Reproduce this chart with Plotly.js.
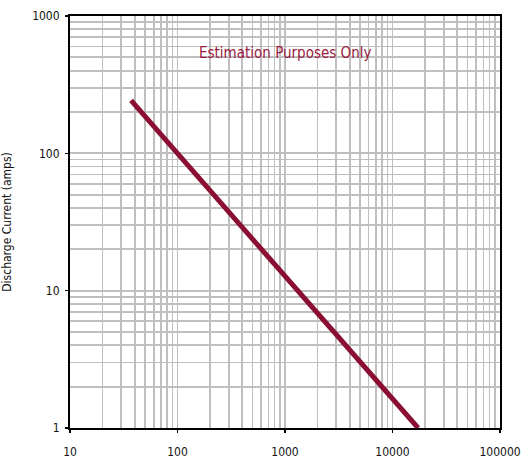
<!DOCTYPE html>
<html><head><meta charset="utf-8">
<script src="https://cdn.plot.ly/plotly-3.0.1.min.js"></script>
<style>html,body{margin:0;padding:0;background:#fff;}</style>
</head><body>
<div id="chart" style="width:522px;height:461px;"></div>
<script>
var timeX = [37, 17300];
var currentY = [243, 1];
var xTicks = [10, 100, 1000, 10000, 100000];
var xTickLabels = ["10", "100", "1000", "10000", "100000"];
var yTicks = [1, 10, 100, 1000];
var yTickLabels = ["1", "10", "100", "1000"];
var minorSteps = [2, 3, 4, 5, 6, 7, 8, 9];
var noteText = "Estimation Purposes Only";
var yTitle = "Discharge Current (amps)";

function gridVals(decades) {
  var v = [];
  decades.forEach(function (d, i) {
    v.push(d);
    if (i < decades.length - 1) minorSteps.forEach(function (m) { v.push(d * m); });
  });
  return v;
}
function gridText(decades, labels) {
  var t = [];
  decades.forEach(function (d, i) {
    t.push(labels[i]);
    if (i < decades.length - 1) minorSteps.forEach(function () { t.push(""); });
  });
  return t;
}

var font = "DejaVu Sans Condensed, Liberation Sans Narrow, Arial Narrow, sans-serif";
var trace = {
  x: timeX, y: currentY, type: "scatter", mode: "lines",
  line: {color: "#8a0f32", width: 5}, hoverinfo: "skip"
};
var dummy = {
  x: timeX, y: currentY, type: "scatter", mode: "lines", xaxis: "x2", yaxis: "y2",
  line: {color: "rgba(0,0,0,0)", width: 0}, hoverinfo: "skip"
};
var gridAxis = {
  type: "log", showline: true, linecolor: "#000", linewidth: 2, mirror: true,
  ticks: "", showgrid: true, gridcolor: "#bfbfbf", gridwidth: 1.7,
  tickfont: {family: font, size: 12, color: "#111"}, zeroline: false
};
var tickAxis = {
  type: "log", showline: false, showgrid: false, zeroline: false,
  ticks: "outside", ticklen: 4, tickcolor: "#000", tickwidth: 1.5, showticklabels: false
};
var layout = {
  width: 522, height: 461,
  margin: {l: 70, r: 22, t: 16, b: 33},
  paper_bgcolor: "#fff", plot_bgcolor: "#fff",
  showlegend: false,
  xaxis: Object.assign({}, gridAxis, {
    range: [1, 5], tickmode: "array", tickvals: gridVals(xTicks), ticktext: gridText(xTicks, xTickLabels),
    ticklabelstandoff: 12
  }),
  yaxis: Object.assign({}, gridAxis, {
    range: [0, 3], tickmode: "array", tickvals: gridVals(yTicks), ticktext: gridText(yTicks, yTickLabels),
    ticklabelstandoff: 6,
    title: {text: yTitle, font: {family: font, size: 12, color: "#111"}, standoff: 18}
  }),
  xaxis2: Object.assign({}, tickAxis, {range: [1, 5], overlaying: "x", side: "bottom", tickvals: xTicks, anchor: "y2"}),
  yaxis2: Object.assign({}, tickAxis, {range: [0, 3], overlaying: "y", side: "left", tickvals: yTicks, anchor: "x2"}),
  annotations: [{
    text: noteText, x: 0.5, y: 0.91, xref: "paper", yref: "paper",
    showarrow: false, xanchor: "center", yanchor: "middle",
    font: {family: font, size: 15, color: "#9a1a40"}
  }]
};
Plotly.newPlot("chart", [trace, dummy], layout, {displayModeBar: false, staticPlot: true});
</script>
</body></html>
